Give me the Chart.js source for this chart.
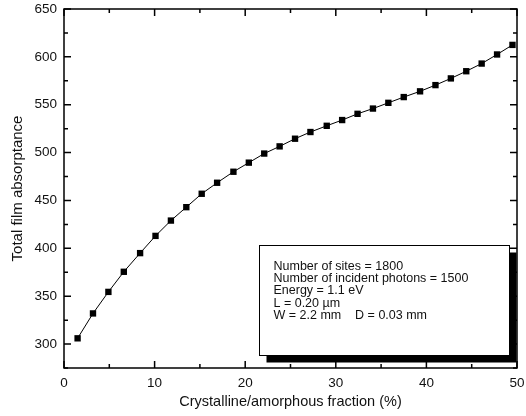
<!DOCTYPE html>
<html>
<head>
<meta charset="utf-8">
<script src="https://cdn.jsdelivr.net/npm/chart.js@4/dist/chart.umd.min.js"></script>
<style>
  html, body { margin: 0; padding: 0; background: #fff; }
</style>
</head>
<body>
<canvas id="chart" width="526" height="416"></canvas>
<script>
"use strict";
(function () {
  // Crystalline/amorphous fraction (%)
  const FRACTION = [1.5, 3.2, 4.9, 6.6, 8.4, 10.1, 11.8, 13.5, 15.2, 16.9,
    18.7, 20.4, 22.1, 23.8, 25.5, 27.2, 29.0, 30.7, 32.4, 34.1,
    35.8, 37.5, 39.3, 41.0, 42.7, 44.4, 46.1, 47.8, 49.5];
  // Total film absorptance
  const ABSORPTANCE = [306, 332, 354.5, 375.5, 395, 413, 429, 443, 457, 468.5,
    480, 489.5, 499, 506.5, 514.5, 521.5, 528, 534, 540.5, 546,
    552, 558, 564, 570.5, 577.5, 585, 593, 602.5, 612.5];
  const X_TICKS = [0, 10, 20, 30, 40, 50];
  const Y_TICKS = [300, 350, 400, 450, 500, 550, 600, 650];
  const X_MINOR = 5;
  const Y_MINOR = 25;
  const INFO_LINES = [
    "Number of sites = 1800",
    "Number of incident photons = 1500",
    "Energy = 1.1 eV",
    "L = 0.20 \u00b5m",
    "W = 2.2 mm    D = 0.03 mm"
  ];
  const FONT = "'Liberation Sans', Arial, Helvetica, sans-serif";

  // info box corners in data units
  const BOX = { x0: 21.5, x1: 49.1, y0: 404, y1: 288.5 };

  const infoBox = {
    id: "infoBox",
    afterDatasetsDraw(chart) {
      let ctx = chart.ctx;
      let xs = chart.scales.x;
      let ys = chart.scales.y;
      let left = Math.round(xs.getPixelForValue(BOX.x0)) + 0.5;
      let right = Math.round(xs.getPixelForValue(BOX.x1)) + 0.5;
      let top = Math.round(ys.getPixelForValue(BOX.y0)) + 0.5;
      let bottom = Math.round(ys.getPixelForValue(BOX.y1)) + 0.5;
      let shadow = 7;
      ctx.save();
      ctx.fillStyle = "#000";
      ctx.fillRect(left + shadow, top + shadow, right - left, bottom - top);
      ctx.fillStyle = "#fff";
      ctx.fillRect(left, top, right - left, bottom - top);
      ctx.strokeStyle = "#000";
      ctx.lineWidth = 1;
      ctx.strokeRect(left, top, right - left, bottom - top);
      ctx.font = "12.5px " + FONT;
      ctx.fillStyle = "#111";
      ctx.textBaseline = "alphabetic";
      for (let i = 0; i < INFO_LINES.length; i++) {
        ctx.fillText(INFO_LINES[i], left + 14, top + 24 + i * 12.4);
      }
      ctx.restore();
    }
  };

  // box frame with inward ticks on all four sides
  const frameTicks = {
    id: "frameTicks",
    afterDraw(chart) {
      let ctx = chart.ctx;
      let a = chart.chartArea;
      let xs = chart.scales.x;
      let ys = chart.scales.y;
      ctx.save();
      ctx.strokeStyle = "#000";
      ctx.lineWidth = 1.5;
      ctx.beginPath();
      for (let v = xs.min; v <= xs.max; v += X_MINOR) {
        let px = xs.getPixelForValue(v);
        let len = X_TICKS.includes(v) ? 7 : 4;
        ctx.moveTo(px, a.bottom);
        ctx.lineTo(px, a.bottom - len);
        ctx.moveTo(px, a.top);
        ctx.lineTo(px, a.top + len);
      }
      for (let v = ys.min; v <= ys.max; v += Y_MINOR) {
        let py = ys.getPixelForValue(v);
        let len = Y_TICKS.includes(v) ? 7 : 4;
        ctx.moveTo(a.left, py);
        ctx.lineTo(a.left + len, py);
        ctx.moveTo(a.right, py);
        ctx.lineTo(a.right - len, py);
      }
      ctx.stroke();
      ctx.strokeRect(a.left, a.top, a.right - a.left, a.bottom - a.top);
      ctx.restore();
    }
  };

  let points = FRACTION.map((x, i) => ({ x: x, y: ABSORPTANCE[i] }));

  new Chart(document.getElementById("chart"), {
    type: "scatter",
    data: {
      datasets: [{
        data: points,
        showLine: true,
        borderColor: "#000",
        borderWidth: 1,
        pointStyle: "rect",
        pointRadius: 4.5,
        pointBackgroundColor: "#000",
        pointBorderWidth: 0
      }]
    },
    options: {
      responsive: false,
      animation: false,
      devicePixelRatio: 1,
      layout: { padding: { top: 9, right: 9, left: 0, bottom: 0 } },
      plugins: {
        legend: { display: false },
        tooltip: { enabled: false }
      },
      scales: {
        x: {
          type: "linear",
          min: 0,
          max: 50,
          afterBuildTicks: s => { s.ticks = X_TICKS.map(v => ({ value: v })); },
          afterFit: s => {
            s.height = 48;
            s.paddingLeft = 0;
            s.paddingRight = 0;
          },
          grid: { display: false, drawTicks: false },
          border: { display: false },
          ticks: {
            color: "#111",
            padding: 7,
            maxRotation: 0,
            font: { family: FONT, size: 13.5 }
          },
          title: {
            display: true,
            text: "Crystalline/amorphous fraction (%)",
            color: "#111",
            font: { family: FONT, size: 14.5 },
            padding: { top: 0, bottom: 5.5 }
          }
        },
        y: {
          type: "linear",
          min: 275,
          max: 650,
          afterBuildTicks: s => { s.ticks = Y_TICKS.map(v => ({ value: v })); },
          afterFit: s => {
            s.width = 64;
            s.paddingTop = 0;
            s.paddingBottom = 0;
          },
          grid: { display: false, drawTicks: false },
          border: { display: false },
          ticks: {
            color: "#111",
            padding: 7,
            font: { family: FONT, size: 13.5 }
          },
          title: {
            display: true,
            text: "Total film absorptance",
            color: "#111",
            font: { family: FONT, size: 15 },
            padding: { top: 9, bottom: 0 }
          }
        }
      }
    },
    plugins: [infoBox, frameTicks]
  });
})();
</script>
</body>
</html>
